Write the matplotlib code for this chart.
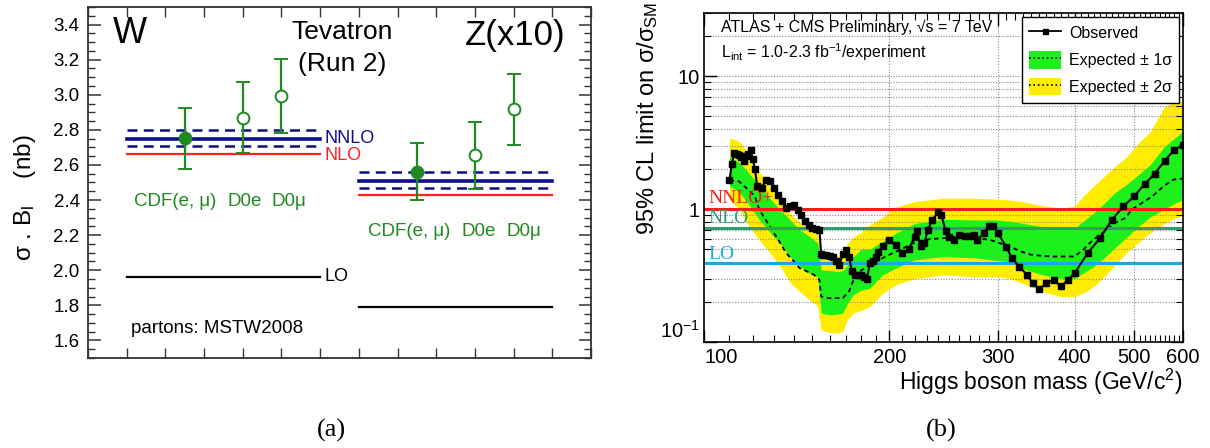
import matplotlib
matplotlib.use("Agg")
import matplotlib.pyplot as plt
from matplotlib.ticker import FixedLocator, NullFormatter, MultipleLocator, FuncFormatter
from matplotlib.patches import Patch
from matplotlib.lines import Line2D

plt.rcParams['font.family'] = ['Liberation Sans', 'DejaVu Sans']
plt.rcParams['mathtext.fontset'] = 'custom'
plt.rcParams['mathtext.rm'] = 'Liberation Sans'
plt.rcParams['mathtext.it'] = 'Liberation Sans:italic'
plt.rcParams['mathtext.default'] = 'regular'

# ---------------- Panel (a) data ----------------
exp_names = ["CDF(e, μ)", "D0e", "D0μ"]
w_x = [2.5, 4.0, 5.0]
w_val = [2.752, 2.868, 2.992]
w_lo = [2.578, 2.669, 2.784]
w_hi = [2.927, 3.070, 3.205]
z_x = [8.5, 10.0, 11.0]
z_val = [2.561, 2.654, 2.917]
z_lo = [2.401, 2.462, 2.713]
z_hi = [2.725, 2.844, 3.118]
filled = [True, False, False]
w_span = [1, 6]
z_span = [7, 12]
w_nnlo = [2.708, 2.749, 2.798]   # low, central, high
z_nnlo = [2.469, 2.509, 2.558]
w_nlo = 2.662
z_nlo = 2.430
w_lo_th = 1.964
z_lo_th = 1.791

# ---------------- Panel (b) data ----------------
obs_m = [110, 111, 112, 113, 114, 115, 116, 117, 118, 119, 120, 121, 122, 124, 126, 128, 130,
         132, 134, 136, 138, 140, 142, 144, 146, 148, 150, 152, 154, 155, 156, 158, 160, 162,
         164, 166, 168, 170, 172, 174, 176, 178, 180, 182, 184, 186, 188, 190, 192, 195, 200,
         205, 210, 215, 220, 222, 225, 228, 231, 235, 240, 243, 247, 250, 255, 260, 265, 270,
         275, 278, 285, 290, 295, 300, 310, 316, 325, 335, 342, 350, 360, 370, 380, 390, 400,
         420, 440, 460, 480, 500, 520, 540, 560, 580, 600]
obs_v = [1.65, 2.2, 2.66, 2.62, 2.58, 2.45, 2.29, 2.5, 2.6, 2.78, 2.4, 2.0, 1.49, 1.445, 1.67,
         1.62, 1.45, 1.28, 1.15, 1.02, 1.05, 1.08, 0.98, 0.9, 0.81, 0.76, 0.72, 0.71, 0.70,
         0.46, 0.455, 0.454, 0.445, 0.44, 0.41, 0.381, 0.46, 0.495, 0.44, 0.34, 0.32, 0.32,
         0.32, 0.31, 0.30, 0.393, 0.41, 0.44, 0.48, 0.524, 0.589, 0.54, 0.467, 0.50, 0.62,
         0.68, 0.524, 0.556, 0.70, 0.833, 0.946, 0.909, 0.68, 0.62, 0.589, 0.642, 0.63, 0.623,
         0.642, 0.589, 0.661, 0.742, 0.742, 0.66, 0.52, 0.43, 0.37, 0.32, 0.277, 0.25, 0.277,
         0.293, 0.262, 0.293, 0.33, 0.467, 0.606, 0.833, 1.05, 1.25, 1.55, 1.85, 2.31, 2.78, 3.05]

exp_m = [110, 114, 118, 121, 123, 126, 130, 133, 136, 140, 143, 147, 151, 154, 155, 160, 168,
         172, 175, 179, 186, 195, 200, 211, 222, 233, 246, 257, 274, 291, 302, 314, 327, 340,
         353, 368, 382, 400, 413, 429, 447, 465, 484, 496, 535, 558, 579, 600]
exp_v = [1.65, 1.62, 1.40, 1.25, 0.99, 0.83, 0.66, 0.556, 0.467, 0.404, 0.36, 0.34, 0.32,
         0.294, 0.22, 0.214, 0.214, 0.24, 0.294, 0.34, 0.381, 0.428, 0.454, 0.51, 0.571,
         0.596, 0.606, 0.623, 0.606, 0.589, 0.556, 0.524, 0.48, 0.454, 0.446, 0.44, 0.44,
         0.44, 0.495, 0.589, 0.68, 0.787, 0.86, 1.0, 1.25, 1.49, 1.67, 1.70]

band_m = [110, 114, 118, 121, 123, 126, 129, 133, 138, 143, 148, 153, 155, 160, 165, 168, 171,
          175, 180, 186, 195, 205, 220, 245, 275, 300, 315, 330, 355, 380, 400, 413, 430, 447,
          465, 485, 510, 530, 560, 580, 600]
yellow_hi = [3.45, 3.25, 2.66, 2.1, 1.9, 1.65, 1.38, 1.12, 0.93, 0.8, 0.73, 0.64, 0.47, 0.455,
             0.445, 0.44, 0.55, 0.62, 0.67, 0.76, 0.87, 1.04, 1.14, 1.21, 1.21, 1.19, 1.17,
             1.14, 1.06, 1.02, 1.05, 1.25, 1.5, 1.77, 2.1, 2.45, 3.2, 3.8, 5.9, 6.5, 6.5]
green_hi = [2.5, 2.25, 1.9, 1.65, 1.5, 1.33, 1.16, 0.99, 0.83, 0.70, 0.63, 0.556, 0.35, 0.345,
            0.34, 0.345, 0.38, 0.44, 0.50, 0.50, 0.57, 0.66, 0.78, 0.84, 0.83, 0.83, 0.81,
            0.78, 0.74, 0.72, 0.72, 0.81, 0.94, 1.11, 1.33, 1.53, 1.85, 2.15, 2.97, 3.4, 3.85]
green_lo = [1.49, 1.35, 1.1, 0.93, 0.83, 0.73, 0.64, 0.55, 0.44, 0.37, 0.33, 0.31, 0.165, 0.16,
            0.162, 0.165, 0.195, 0.228, 0.245, 0.254, 0.32, 0.36, 0.415, 0.44, 0.43, 0.41,
            0.40, 0.355, 0.32, 0.30, 0.30, 0.33, 0.37, 0.43, 0.51, 0.61, 0.75, 0.87, 1.0, 1.1, 1.18]
yellow_lo = [1.18, 1.0, 0.76, 0.65, 0.59, 0.51, 0.45, 0.37, 0.28, 0.24, 0.21, 0.185, 0.123,
             0.118, 0.117, 0.12, 0.148, 0.165, 0.173, 0.185, 0.232, 0.27, 0.30, 0.32, 0.31,
             0.31, 0.30, 0.275, 0.24, 0.22, 0.22, 0.233, 0.262, 0.31, 0.38, 0.467, 0.57, 0.66,
             0.78, 0.85, 0.9]

theory_names = ["NNLO+", "NLO", "LO"]
theory_vals = [1.0, 0.72, 0.393]
theory_cols = ["#ff1a1a", "#2e9e70", "#1aa8e0"]

xticks_b = [100, 200, 300, 400, 500, 600]

# ---------------- Figure ----------------
W, H = 1210, 448
fig = plt.figure(figsize=(W / 100, H / 100), dpi=100)

def rect(l, r, t, b):
    return [l / W, 1 - b / H, (r - l) / W, (b - t) / H]

GREEN = "#1f8a1f"
NAVY = "#0c0c8a"

# ----- panel a -----
ax = fig.add_axes(rect(88, 591, 7, 358))
ax.set_xlim(0, 13)
ax.set_ylim(1.5, 3.5)
for sp in ax.spines.values():
    sp.set_linewidth(1.3)
    sp.set_color("#333333")
ax.xaxis.set_major_locator(MultipleLocator(1))
ax.xaxis.set_major_formatter(NullFormatter())
ax.yaxis.set_major_locator(MultipleLocator(0.2))
ax.yaxis.set_minor_locator(MultipleLocator(0.05))
ax.yaxis.set_major_formatter(FuncFormatter(lambda v, p: f"{v:.1f}"))
ax.tick_params(axis='both', which='both', direction='in', top=True, right=True, color="#333333")
ax.tick_params(axis='y', which='major', length=9, width=1.1, labelsize=13.5, pad=6)
ax.tick_params(axis='y', which='minor', length=5, width=1.0)
ax.tick_params(axis='x', which='major', length=7, width=1.0)

for span, nnlo, nlo, lo in [(w_span, w_nnlo, w_nlo, w_lo_th), (z_span, z_nnlo, z_nlo, z_lo_th)]:
    ax.plot(span, [nnlo[1]] * 2, color=NAVY, lw=2.6)
    ax.plot(span, [nnlo[0]] * 2, color=NAVY, lw=1.8, ls=(0, (4, 2.5)))
    ax.plot(span, [nnlo[2]] * 2, color=NAVY, lw=1.8, ls=(0, (4, 2.5)))
    ax.plot(span, [nlo] * 2, color="#ff2020", lw=1.6)
    ax.plot(span, [lo] * 2, color="black", lw=1.6)

for xs, vs, los, his in [(w_x, w_val, w_lo, w_hi), (z_x, z_val, z_lo, z_hi)]:
    for x, v, lo, hi, f in zip(xs, vs, los, his, filled):
        ax.errorbar([x], [v], yerr=[[v - lo], [hi - v]], fmt='o', color=GREEN, ms=8.5,
                    mfc=GREEN if f else "white", mec=GREEN, mew=1.4, elinewidth=1.6,
                    capsize=5, capthick=1.6, zorder=5)

ax.text(6.12, w_nnlo[1], "NNLO", color=NAVY, fontsize=13, va='center', ha='left')
ax.text(6.12, w_nlo - 0.01, "NLO", color="#ff2020", fontsize=13, va='center', ha='left')
ax.text(6.12, w_lo_th, "LO", color="black", fontsize=13, va='center', ha='left')

w_lab_x = [2.25, 4.05, 5.2]
z_lab_x = [8.3, 10.1, 11.27]
for xx, name in zip(w_lab_x, exp_names):
    ax.text(xx, 2.39, name, color=GREEN, fontsize=13.5, ha='center', va='center')
for xx, name in zip(z_lab_x, exp_names):
    ax.text(xx, 2.22, name, color=GREEN, fontsize=13.5, ha='center', va='center')

ax.text(0.65, 3.35, "W", fontsize=26, ha='left', va='center')
ax.text(6.57, 3.36, "Tevatron", fontsize=19, ha='center', va='center')
ax.text(6.57, 3.175, "(Run 2)", fontsize=19, ha='center', va='center')
ax.text(11.05, 3.34, "Z(x10)", fontsize=25, ha='center', va='center')
ax.text(1.1, 1.67, "partons: MSTW2008", fontsize=13.5, ha='left', va='center')

fig.text(25 / W, 1 - 198 / H, r"σ . B$_{\mathrm{l}}$    (nb)", rotation=90, fontsize=17.5,
         ha='center', va='center')

# ----- panel b -----
bx = fig.add_axes(rect(704, 1183, 13, 342))
bx.set_xscale('log')
bx.set_yscale('log')
bx.set_xlim(100, 600)
bx.set_ylim(0.1, 30)

bx.fill_between(band_m, yellow_lo, yellow_hi, color="#ffec00", lw=0, zorder=1)
bx.fill_between(band_m, green_lo, green_hi, color="#1df01d", lw=0, zorder=2)
bx.plot(exp_m, exp_v, color='black', ls=(0, (2.5, 2)), lw=1.3, zorder=3)

for name, val, col, ypos in zip(theory_names, theory_vals, theory_cols, [1.2, 0.85, 0.455]):
    bx.axhline(val, color=col, lw=2.2, zorder=4)
    bx.text(101.5, ypos, name, color=col, fontsize=14, family=['Liberation Serif'],
            ha='left', va='center', zorder=4)

bx.plot(obs_m, obs_v, color='black', lw=1.5, marker='s', ms=4.2, zorder=6)

bx.xaxis.set_major_locator(FixedLocator(xticks_b))
bx.xaxis.set_major_formatter(FuncFormatter(lambda v, p: f"{int(round(v))}"))
bx.xaxis.set_minor_locator(FixedLocator([m for m in range(110, 600, 10) if m not in xticks_b]))
bx.xaxis.set_minor_formatter(NullFormatter())
bx.yaxis.set_major_locator(FixedLocator([0.1, 1, 10]))
bx.yaxis.set_major_formatter(FuncFormatter(
    lambda v, p: {0.1: r"10$^{-1}$", 1: "1", 10: "10"}.get(round(v, 3), "")))
bx.yaxis.set_minor_locator(FixedLocator([k * d for d in (0.1, 1, 10) for k in range(2, 10)
                                         if k * d <= 30]))
bx.yaxis.set_minor_formatter(NullFormatter())
bx.tick_params(axis='both', which='both', direction='in', top=True, right=True)
bx.tick_params(axis='both', which='major', length=9, width=1.0, labelsize=14.5)
bx.tick_params(axis='both', which='minor', length=5, width=0.8)
bx.tick_params(axis='x', which='major', pad=4)
bx.tick_params(axis='y', which='major', pad=3)
bx.grid(True, which='both', axis='y', color='#8a8a8a', ls=(0, (1, 1.5)), lw=0.8, zorder=0)
for gx in [200, 300, 400, 500]:
    bx.axvline(gx, color='#8a8a8a', ls=(0, (1, 1.5)), lw=0.8, zorder=0)
for sp in bx.spines.values():
    sp.set_linewidth(1.2)
    sp.set_zorder(7)

bx.text(0.035, 0.957, "ATLAS + CMS Preliminary, √s = 7 TeV", transform=bx.transAxes,
        fontsize=11.5, ha='left', va='center', zorder=8)
bx.text(0.035, 0.881, r"L$_{int}$ = 1.0-2.3 fb$^{-1}$/experiment", transform=bx.transAxes,
        fontsize=11.5, ha='left', va='center', zorder=8)

h_obs = Line2D([], [], color='black', lw=1.3, marker='s', ms=3.6)
h_1s = (Patch(facecolor="#1df01d", edgecolor='none'), Line2D([], [], color='black', ls=':', lw=1.2))
h_2s = (Patch(facecolor="#ffec00", edgecolor='none'), Line2D([], [], color='black', ls=':', lw=1.2))
leg = bx.legend([h_obs, h_1s, h_2s], ["Observed", "Expected ± 1σ", "Expected ± 2σ"],
                loc='upper right', bbox_to_anchor=(0.992, 0.988), fontsize=11.5, frameon=True,
                fancybox=False, edgecolor='black', framealpha=1, borderpad=0.45,
                labelspacing=0.55, handlelength=2.0, handleheight=1.35, handletextpad=0.5,
                borderaxespad=0)
leg.get_frame().set_linewidth(1.0)
leg.set_zorder(9)

fig.text(648 / W, 1 - 118 / H, r"95% CL limit on σ/σ$_{\mathrm{SM}}$", rotation=90,
         fontsize=17, ha='center', va='center')
fig.text(1183 / W, 1 - 382 / H, r"Higgs boson mass (GeV/c$^{2}$)", fontsize=16.5,
         ha='right', va='center')

fig.text(331 / W, 1 - 430 / H, "(a)", fontsize=19, family=['Liberation Serif'],
         ha='center', va='center')
fig.text(941 / W, 1 - 430 / H, "(b)", fontsize=19, family=['Liberation Serif'],
         ha='center', va='center')

# shift the "100" label a little right and the "10^-1" label up, so they do not collide
fig.canvas.draw()
xt = bx.xaxis.get_major_ticks()
xt[0].label1.set_horizontalalignment('left')
xt[0].label1.set_x(xt[0].label1.get_position()[0])
for t in bx.yaxis.get_major_ticks():
    if abs(t.get_loc() - 0.1) < 1e-6:
        t.label1.set_verticalalignment('bottom')

fig.savefig("out.png", dpi=100)
